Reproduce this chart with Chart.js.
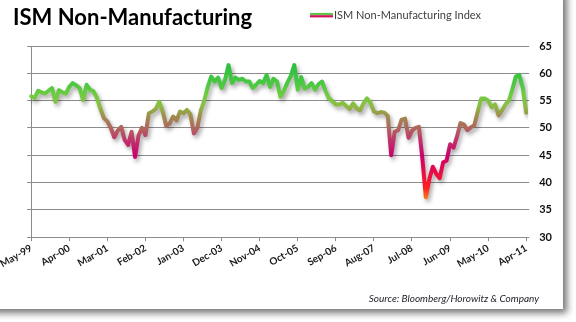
<!DOCTYPE html>
<html>
<head>
<meta charset="utf-8">
<script src="https://cdn.jsdelivr.net/npm/chart.js@4.4.0/dist/chart.umd.min.js"></script>
<style>
  html, body { margin: 0; padding: 0; background: #fff; }
  body { width: 576px; height: 322px; overflow: hidden; position: relative; }
  #frame { position: absolute; left: -10px; top: -10px; width: 573px; height: 319px; background: #fff; box-shadow: 4px 4px 7px rgba(0,0,0,0.55); }
  #wrap { position: absolute; left: 0; top: 0; width: 576px; height: 322px; }
</style>
</head>
<body>
<div id="frame"></div>
<div id="wrap"><canvas id="ismChart"></canvas></div>
<script>
// monthly, May-99 .. Apr-11
const monthNames = ['Jan', 'Feb', 'Mar', 'Apr', 'May', 'Jun', 'Jul', 'Aug', 'Sep', 'Oct', 'Nov', 'Dec'];
const startYear = 1999;
const startMonth = 4; // May

const ismIndex = [
    55.8, 55.5, 56.8, 56.5, 56.3, 56.8, 57.3, 54.8, 56.9, 56.5, 56.3, 57.5,
    58.2, 57.8, 57.3, 55.1, 57.9, 57.0, 56.7, 55.5, 53.5, 51.8, 51.2, 50.0,
    48.3, 49.5, 50.2, 47.8, 46.9, 49.3, 44.7, 48.6, 50.0, 48.7, 52.7, 53.0,
    53.5, 54.8, 53.0, 50.4, 50.8, 52.1, 51.4, 53.0, 52.7, 53.3, 52.5, 49.0,
    50.0, 53.2, 55.0, 57.5, 59.4, 58.5, 59.2, 57.3, 58.8, 61.5, 58.2, 59.2,
    58.8, 59.0, 58.5, 58.5, 57.3, 57.9, 58.6, 58.2, 59.7, 57.5, 59.0, 58.5,
    55.7, 56.8, 58.3, 59.5, 61.5, 57.0, 59.3, 57.2, 57.5, 58.2, 57.0, 58.0,
    58.5, 56.8, 55.4, 54.9, 54.3, 54.3, 54.6, 54.0, 53.5, 54.5, 53.6, 53.2,
    54.5, 55.4, 54.6, 53.0, 52.7, 52.9, 52.8, 52.2, 45.0, 49.3, 49.6, 51.5,
    51.7, 48.2, 49.5, 50.0, 50.2, 44.4, 37.3, 40.6, 42.9, 41.6, 40.8, 43.7,
    44.0, 47.0, 46.4, 48.4, 50.9, 50.6, 49.6, 50.1, 50.5, 53.0, 55.4, 55.4,
    55.0, 53.8, 54.3, 52.3, 53.2, 54.3, 55.0, 57.1, 59.4, 59.7, 57.3, 52.8
];

const tickLabels = ['May-99', 'Apr-00', 'Mar-01', 'Feb-02', 'Jan-03', 'Dec-03', 'Nov-04',
    'Oct-05', 'Sep-06', 'Aug-07', 'Jul-08', 'Jun-09', 'May-10', 'Apr-11'];

const yMin = 30;
const yMax = 65;
const yStep = 5;

const months = [];
for (let i = 0; i < ismIndex.length; i++) {
    const m = (startMonth + i) % 12;
    const yr = startYear + Math.floor((startMonth + i) / 12);
    months.push(monthNames[m] + '-' + String(yr).slice(2));
}

// colour of the line depends on the level of the index
const levelColors = [
    [37, '#ff7a12'],
    [39, '#ff1e22'],
    [42, '#e80a48'],
    [45, '#cc006c'],
    [48, '#c0386a'],
    [50, '#b0665c'],
    [52, '#a08a4e'],
    [54, '#8cbc42'],
    [56, '#70cc40'],
    [58, '#4cc842'],
    [61, '#30c040']
];

function levelGradient(context) {
    const chart = context.chart;
    const { ctx, chartArea, scales } = chart;
    if (!chartArea) return '#5c5';
    const y = scales.y;
    const g = ctx.createLinearGradient(0, y.getPixelForValue(yMin), 0, y.getPixelForValue(yMax));
    levelColors.forEach(([v, c]) => g.addColorStop((v - yMin) / (yMax - yMin), c));
    return g;
}

const lineShadow = {
    id: 'lineShadow',
    beforeDatasetDraw(chart) {
        const c = chart.ctx;
        c.save();
        c.shadowColor = 'rgba(0,0,0,0.35)';
        c.shadowBlur = 4;
        c.shadowOffsetX = 2;
        c.shadowOffsetY = 3;
    },
    afterDatasetDraw(chart) {
        chart.ctx.restore();
    }
};

// title, legend and source line
const headerText = {
    id: 'headerText',
    afterDraw(chart) {
        const c = chart.ctx;
        c.save();
        c.fillStyle = '#000';
        c.font = 'bold 22px Lato';
        c.textBaseline = 'alphabetic';
        c.textAlign = 'left';
        c.fillText('ISM Non-Manufacturing', 13, 25);

        c.lineWidth = 2.2;
        c.strokeStyle = '#62c24a';
        c.beginPath(); c.moveTo(310, 14); c.lineTo(333, 14); c.stroke();
        c.strokeStyle = '#d0105a';
        c.beginPath(); c.moveTo(310, 16.3); c.lineTo(333, 16.3); c.stroke();

        c.fillStyle = '#404040';
        c.font = '11px Lato';
        c.textBaseline = 'middle';
        c.fillText('ISM Non-Manufacturing Index', 334, 15);

        c.fillStyle = '#1c1c28';
        c.font = 'italic 10px Lato';
        c.textAlign = 'right';
        c.textBaseline = 'alphabetic';
        c.fillText('Source: Bloomberg/Horowitz & Company', 539, 302);
        c.restore();
    }
};

const ctx = document.getElementById('ismChart').getContext('2d');

new Chart(ctx, {
    type: 'line',
    data: {
        labels: months,
        datasets: [{
            label: 'ISM Non-Manufacturing Index',
            data: ismIndex,
            borderColor: levelGradient,
            borderWidth: 4,
            borderJoinStyle: 'round',
            borderCapStyle: 'round',
            pointRadius: 0,
            tension: 0,
            fill: false
        }]
    },
    options: {
        responsive: true,
        maintainAspectRatio: false,
        animation: false,
        layout: {
            padding: { top: 46, right: 14, bottom: 51, left: 26 }
        },
        scales: {
            x: {
                type: 'category',
                offset: false,
                grid: { drawOnChartArea: false, drawTicks: true, tickLength: 4, color: '#8c8c8c' },
                border: { display: true, color: '#8c8c8c' },
                ticks: {
                    autoSkip: false,
                    minRotation: 30,
                    maxRotation: 30,
                    padding: 1,
                    color: '#1a1a1a',
                    font: { family: 'Lato', size: 10, weight: 'bold' },
                    callback: function (value, index) {
                        return tickLabels.includes(months[index]) ? months[index] : null;
                    }
                }
            },
            y: {
                position: 'right',
                min: yMin,
                max: yMax,
                ticks: {
                    stepSize: yStep,
                    padding: 10,
                    color: '#111',
                    font: { family: 'Lato', size: 11, weight: 'bold' }
                },
                grid: { color: '#8c8c8c', tickLength: 3 },
                border: { display: false }
            },
            y2: {
                position: 'left',
                min: yMin,
                max: yMax,
                ticks: { display: false, stepSize: yStep },
                grid: { drawOnChartArea: false, tickLength: 4, color: '#8c8c8c' },
                border: { display: true, color: '#8c8c8c' }
            }
        },
        plugins: {
            legend: { display: false },
            title: { display: false },
            tooltip: { enabled: false }
        }
    },
    plugins: [lineShadow, headerText]
});
</script>
</body>
</html>
